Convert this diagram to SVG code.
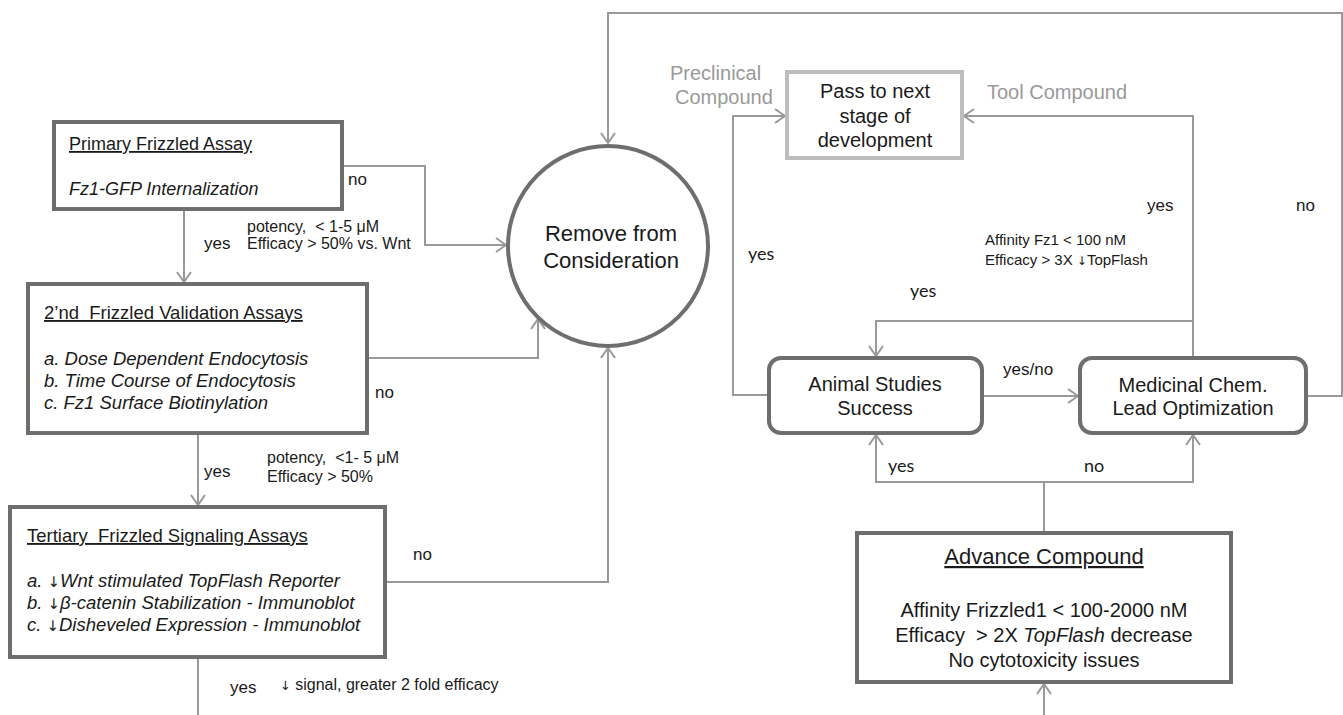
<svg xmlns="http://www.w3.org/2000/svg" width="1343" height="715" viewBox="0 0 1343 715">
<style>
text{font-family:"Liberation Sans",Arial,sans-serif;fill:#1a1a1a}
.box{fill:#fff;stroke:#6e6e6e;stroke-width:4}
.pbox{fill:#fff;stroke:#bdbdbd;stroke-width:4}
.c{fill:none;stroke:#999;stroke-width:2}
.bt{font-size:18.5px}
.bi{font-size:18.5px;font-style:italic}
.u{text-decoration:underline}
.lab{font-size:16px}
.yn{font-size:17px}
.cal{font-family:Lato,"Open Sans",sans-serif;font-size:18px}
.g{fill:#999;font-size:20px}
.n20{font-size:20px;text-anchor:middle}
.ar{font-family:"DejaVu Sans",sans-serif;font-style:normal;font-size:0.8em}
</style>
<defs>
<marker id="ah" viewBox="0 0 12 16" refX="11" refY="8" markerWidth="12" markerHeight="16" markerUnits="userSpaceOnUse" orient="auto">
<path d="M1,1 L11,8 L1,15" fill="none" stroke="#999" stroke-width="2"/>
</marker>
</defs>
<g id="connectors">
<path class="c" d="M342,166 H425 V245 H506" marker-end="url(#ah)"/>
<path class="c" d="M184,210 V282" marker-end="url(#ah)"/>
<path class="c" d="M367,358 H538 V319" marker-end="url(#ah)"/>
<path class="c" d="M198,434 V505" marker-end="url(#ah)"/>
<path class="c" d="M385,582 H608 V348" marker-end="url(#ah)"/>
<path class="c" d="M198,658 V715"/>
<path class="c" d="M1306,396 H1342 V13 H608 V143" marker-end="url(#ah)"/>
<path class="c" d="M769,395 H733 V116 H785" marker-end="url(#ah)"/>
<path class="c" d="M1193,357 V116 H964" marker-end="url(#ah)"/>
<path class="c" d="M1193,321 H876 V356" marker-end="url(#ah)"/>
<path class="c" d="M982,396 H1078" marker-end="url(#ah)"/>
<path class="c" d="M1044,532 V482 H876 V435" marker-end="url(#ah)"/>
<path class="c" d="M1044,482 H1193 V435" marker-end="url(#ah)"/>
<path class="c" d="M1044,715 V684" marker-end="url(#ah)"/>
</g>
<g id="labels">
<text class="lab" x="247" y="232" xml:space="preserve">potency,  &lt; 1-5 μM</text>
<text class="lab" x="247" y="249">Efficacy &gt; 50% vs. Wnt</text>
<text class="yn" x="204" y="249">yes</text>
<text class="yn" x="348" y="185">no</text>
<text class="yn" x="375" y="398">no</text>
<text class="yn" x="204" y="477">yes</text>
<text class="lab" x="267" y="463" xml:space="preserve">potency,  &lt;1- 5 μM</text>
<text class="lab" x="267" y="482">Efficacy &gt; 50%</text>
<text class="yn" x="413" y="560">no</text>
<text class="yn" x="230" y="693">yes</text>
<text class="lab" x="280" y="690"><tspan class="ar">↓</tspan> signal, greater 2 fold efficacy</text>
<text class="g" x="670" y="80">Preclinical</text>
<text class="g" x="675" y="104">Compound</text>
<text class="g" x="987" y="99">Tool Compound</text>
<text class="cal" x="748" y="260">yes</text>
<text class="cal" x="910" y="297">yes</text>
<text class="yn" x="1147" y="211">yes</text>
<text class="yn" x="1296" y="211">no</text>
<text style="font-size:15px" x="985" y="245">Affinity Fz1 &lt; 100 nM</text>
<text style="font-size:15px" x="985" y="265">Efficacy &gt; 3X <tspan class="ar">↓</tspan>TopFlash</text>
<text class="yn" x="1003" y="375">yes/no</text>
<text class="cal" x="888" y="472">yes</text>
<text class="cal" x="1084" y="472">no</text>
</g>
<g id="primary">
<rect class="box" x="54" y="122" width="288" height="87"/>
<text class="u" style="font-size:18px" x="69" y="150">Primary Frizzled Assay</text>
<text style="font-size:18px;font-style:italic" x="69" y="195">Fz1-GFP Internalization</text>
</g>
<g id="secondary">
<rect class="box" x="28" y="284" width="339" height="149"/>
<text class="bt u" x="44" y="319" xml:space="preserve">2’nd  Frizzled Validation Assays</text>
<text class="bi" x="44" y="365">a. Dose Dependent Endocytosis</text>
<text class="bi" x="44" y="387">b. Time Course of Endocytosis</text>
<text class="bi" x="44" y="409">c. Fz1 Surface Biotinylation</text>
</g>
<g id="tertiary">
<rect class="box" x="10" y="507" width="375" height="150"/>
<text class="bt u" x="27" y="542" xml:space="preserve">Tertiary  Frizzled Signaling Assays</text>
<text class="bi" x="27" y="587">a. <tspan class="ar">↓</tspan>Wnt stimulated TopFlash Reporter</text>
<text class="bi" x="27" y="609">b. <tspan class="ar">↓</tspan>β-catenin Stabilization - Immunoblot</text>
<text class="bi" x="27" y="631">c. <tspan class="ar">↓</tspan>Disheveled Expression - Immunoblot</text>
</g>
<g id="remove">
<circle cx="608" cy="246" r="100" fill="#fff" stroke="#6e6e6e" stroke-width="4"/>
<text x="611" y="241" style="font-size:22px;text-anchor:middle">Remove from</text>
<text x="611" y="268" style="font-size:22px;text-anchor:middle">Consideration</text>
</g>
<g id="pass">
<rect class="pbox" x="787" y="72" width="175" height="86"/>
<text class="n20" x="875" y="98">Pass to next</text>
<text class="n20" x="875" y="123">stage of</text>
<text class="n20" x="875" y="147">development</text>
</g>
<g id="animal">
<rect class="box" x="769" y="358" width="213" height="75" rx="12"/>
<text class="n20" x="875" y="391">Animal Studies</text>
<text class="n20" x="875" y="415">Success</text>
</g>
<g id="medchem">
<rect class="box" x="1080" y="358" width="226" height="75" rx="12"/>
<text class="n20" x="1193" y="392">Medicinal Chem.</text>
<text class="n20" x="1193" y="415">Lead Optimization</text>
</g>
<g id="advance">
<rect class="box" x="857" y="533" width="374" height="149"/>
<text class="u" x="1044" y="564" style="font-size:22px;text-anchor:middle">Advance Compound</text>
<text class="n20" x="1044" y="617">Affinity Frizzled1 &lt; 100-2000 nM</text>
<text class="n20" x="1044" y="642" xml:space="preserve">Efficacy  &gt; 2X <tspan font-style="italic">TopFlash</tspan> decrease</text>
<text class="n20" x="1044" y="667">No cytotoxicity issues</text>
</g>
</svg>
